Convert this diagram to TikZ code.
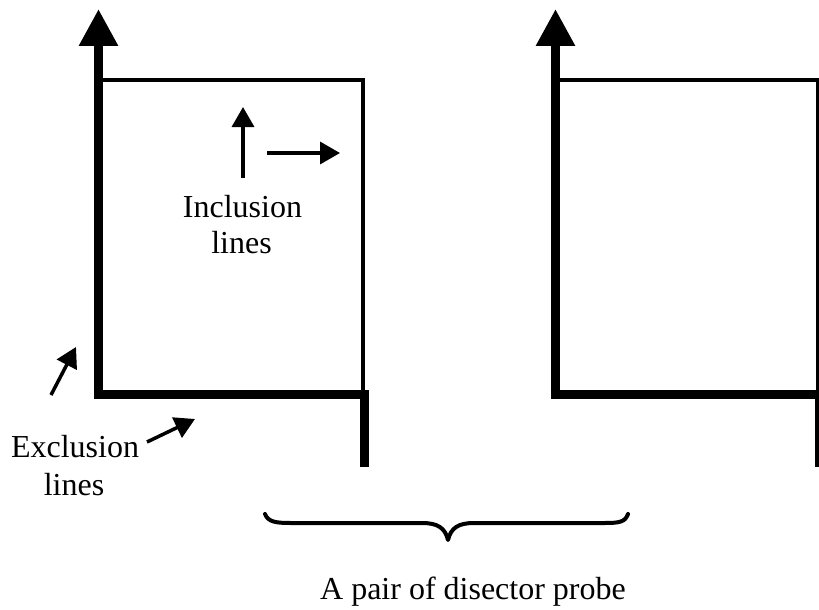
\documentclass[tikz,border=0pt]{standalone}
\usepackage{fontspec}
\setmainfont{Liberation Serif}
\usetikzlibrary{arrows.meta}
\tikzset{
  frameedge/.style={line width=9pt, line join=miter, -{Triangle[length=37pt,width=37pt]}},
  frameline/.style={line width=4pt},
  leg/.style={line width=9pt},
  pointer/.style={line width=3.5pt, -{Triangle[length=20pt,width=22pt]}},
  bracepath/.style={line width=4pt, line cap=round, line join=round},
  label/.style={anchor=base, inner sep=0pt, font=\fontsize{32}{37}\selectfont}
}
\begin{document}
\begin{tikzpicture}[x=1pt,y=-1pt]
  \useasboundingbox (0,0) rectangle (819,610);
  \clip (0,0) rectangle (819,610);

  % left probe frame
  \coordinate (LtipA) at (98.5,9);
  \coordinate (LcornerBL) at (98.5,394);
  \coordinate (LcornerBR) at (364,394);
  \coordinate (LlegEnd) at (364,467);
  \coordinate (LtopL) at (98.5,80);
  \coordinate (LtopR) at (363,80);
  \coordinate (LsideB) at (363,394);
  \draw[frameline] (LtopL) -- (LtopR) -- (LsideB);
  \draw[frameedge] (LcornerBR) -- (LcornerBL) -- (LtipA);
  \draw[leg] (LlegEnd) -- ([yshift=4.5pt]LcornerBR);

  % right probe frame (cut by the page edge)
  \coordinate (RtipA) at (555.5,9);
  \coordinate (RcornerBL) at (555.5,394);
  \coordinate (RcornerBR) at (822,394);
  \coordinate (RlegEnd) at (819,467);
  \coordinate (RlegTop) at (819,394);
  \coordinate (RtopL) at (555.5,80);
  \coordinate (RtopR) at (818,80);
  \coordinate (RsideB) at (818,394);
  \draw[frameline] (RtopL) -- (RtopR) -- (RsideB);
  \draw[frameedge] (RcornerBR) -- (RcornerBL) -- (RtipA);
  \draw[leg] (RlegEnd) -- (RlegTop);

  % inclusion lines
  \coordinate (incUpS) at (243,178);
  \coordinate (incUpE) at (243,107);
  \coordinate (incRtS) at (267,153);
  \coordinate (incRtE) at (340,153);
  \draw[pointer] (incUpS) -- (incUpE);
  \draw[pointer] (incRtS) -- (incRtE);
  \node[label] (inc1) at (242.5,217) {Inclusion};
  \node[label] (inc2) at (241.5,253) {lines};

  % exclusion lines
  \coordinate (excAS) at (51,395);
  \coordinate (excAE) at (76,347);
  \coordinate (excBS) at (147,442);
  \coordinate (excBE) at (195,419);
  \draw[pointer] (excAS) -- (excAE);
  \draw[pointer] (excBS) -- (excBE);
  \node[label] (exc1) at (75,457) {Exclusion};
  \node[label] (exc2) at (74,495) {lines};

  % brace under the pair
  \draw[bracepath] (265,514) .. controls (268,522) and (276,523) .. (291,523)
    -- (422,523) .. controls (438,523) and (445,528) .. (448,540)
    .. controls (451,528) and (458,523) .. (474,523)
    -- (604,523) .. controls (620,523) and (625,522) .. (628,514);
  \node[label] (pair) at (473,599) {A pair of disector probe};
\end{tikzpicture}
\end{document}
